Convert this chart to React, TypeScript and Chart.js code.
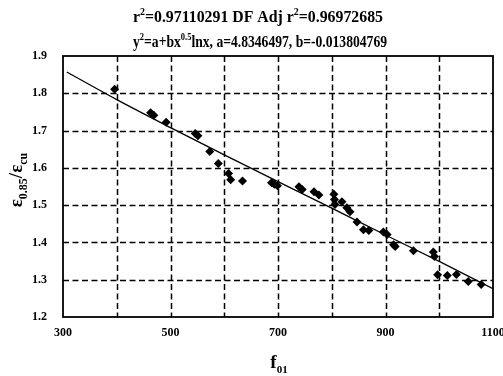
import React, { useEffect, useRef } from 'react';
import { Chart, registerables } from 'chart.js';
Chart.register(...registerables);

// Measured points (f01, eps0.85/epscu)
const pointX = [396, 463, 469, 492, 546, 551, 573, 589, 608, 612, 634, 688, 693, 699, 739, 745, 767, 776, 804, 805, 806, 819, 828, 834, 847, 859, 869, 896, 903, 915, 918, 952, 989, 991, 997, 1015, 1032, 1054, 1078];
const pointY = [1.811, 1.748, 1.741, 1.722, 1.692, 1.686, 1.644, 1.612, 1.585, 1.568, 1.565, 1.56, 1.556, 1.552, 1.549, 1.542, 1.536, 1.527, 1.529, 1.515, 1.502, 1.509, 1.493, 1.482, 1.455, 1.434, 1.432, 1.428, 1.421, 1.394, 1.389, 1.378, 1.374, 1.362, 1.313, 1.311, 1.314, 1.295, 1.287];

// Fitted curve read at each 100
const fitX = [307, 400, 500, 600, 700, 800, 900, 1000, 1100];
const fitY = [1.857, 1.783, 1.708, 1.635, 1.563, 1.492, 1.420, 1.349, 1.276];

const xLabeled = [300, 500, 700, 900, 1100];
const yTicks = ['1.2', '1.3', '1.4', '1.5', '1.6', '1.7', '1.8', '1.9'];

type Seg = { t: string; s: number; dy?: number };
const titleLine1: Seg[] = [
  { t: 'r', s: 16 }, { t: '2', s: 10, dy: -7 }, { t: '=0.97110291 DF Adj r', s: 16 },
  { t: '2', s: 10, dy: -7 }, { t: '=0.96972685', s: 16 },
];
const titleLine2: Seg[] = [
  { t: 'y', s: 16 }, { t: '2', s: 10, dy: -7 }, { t: '=a+bx', s: 16 },
  { t: '0.5', s: 10, dy: -7 }, { t: 'lnx, a=4.8346497, b=-0.013804769', s: 16 },
];
const xTitle: Seg[] = [{ t: 'f', s: 19 }, { t: '01', s: 11, dy: 5 }];
const yTitle: Seg[] = [
  { t: 'ε', s: 19 }, { t: '0.85', s: 12, dy: 5 }, { t: '/ε', s: 19 }, { t: 'cu', s: 12, dy: 5 },
];

const FONT = '"Liberation Serif", "DejaVu Serif", serif';

function drawRich(ctx: CanvasRenderingContext2D, segs: Seg[], cx: number, base: number, target?: number) {
  let total = 0;
  for (const g of segs) {
    ctx.font = `bold ${g.s}px ${FONT}`;
    total += ctx.measureText(g.t).width;
  }
  const k = target ? target / total : 1;
  ctx.save();
  ctx.translate(cx - (total * k) / 2, base);
  ctx.scale(k, 1);
  ctx.textAlign = 'left';
  ctx.textBaseline = 'alphabetic';
  let x = 0;
  for (const g of segs) {
    ctx.font = `bold ${g.s}px ${FONT}`;
    ctx.fillText(g.t, x, g.dy || 0);
    x += ctx.measureText(g.t).width;
  }
  ctx.restore();
}

const decor = {
  id: 'decor',
  beforeDatasetsDraw(chart: any) {
    const ctx = chart.ctx as CanvasRenderingContext2D;
    const a = chart.chartArea;
    const xs = chart.scales.x;
    const ys = chart.scales.y;
    ctx.save();
    ctx.strokeStyle = '#000';
    ctx.lineWidth = 1.5;
    ctx.setLineDash([6, 3.5]);
    for (const t of xs.ticks) {
      const px = Math.round(xs.getPixelForValue(t.value)) + 0.5;
      if (px <= a.left + 2 || px >= a.right - 2) continue;
      ctx.beginPath();
      ctx.moveTo(px, a.top);
      ctx.lineTo(px, a.bottom);
      ctx.stroke();
    }
    for (const t of ys.ticks) {
      const py = Math.round(ys.getPixelForValue(t.value)) + 0.5;
      if (py <= a.top + 2 || py >= a.bottom - 2) continue;
      ctx.beginPath();
      ctx.moveTo(a.left, py);
      ctx.lineTo(a.right, py);
      ctx.stroke();
    }
    ctx.restore();
  },
  afterDraw(chart: any) {
    const ctx = chart.ctx as CanvasRenderingContext2D;
    const a = chart.chartArea;
    ctx.save();
    ctx.strokeStyle = '#000';
    ctx.lineWidth = 1.8;
    ctx.setLineDash([]);
    ctx.strokeRect(a.left, a.top, a.right - a.left, a.bottom - a.top);
    ctx.fillStyle = '#000';
    drawRich(ctx, titleLine1, 258, 22, 250);
    drawRich(ctx, titleLine2, 260, 47, 254);
    drawRich(ctx, xTitle, 279, 368);
    ctx.translate(22, 180);
    ctx.rotate(-Math.PI / 2);
    drawRich(ctx, yTitle, 0, 0);
    ctx.restore();
  },
};

export default function App() {
  const ref = useRef<HTMLCanvasElement>(null);
  useEffect(() => {
    document.body.style.margin = '0';
    const chart = new Chart(ref.current!, {
      type: 'scatter',
      data: {
        datasets: [
          {
            data: pointX.map((x, i) => ({ x, y: pointY[i] })),
            pointStyle: 'rectRot',
            pointRadius: 4.5,
            backgroundColor: '#000',
            borderColor: '#000',
            borderWidth: 0,
          },
          {
            type: 'line',
            data: fitX.map((x, i) => ({ x, y: fitY[i] })),
            borderColor: '#000',
            borderWidth: 1.3,
            pointRadius: 0,
            cubicInterpolationMode: 'monotone',
            fill: false,
          } as any,
        ],
      },
      options: {
        responsive: false,
        animation: false,
        layout: { padding: { left: 0, right: 10, top: 56, bottom: 0 } },
        plugins: { legend: { display: false }, tooltip: { enabled: false }, title: { display: false } },
        scales: {
          x: {
            type: 'linear',
            min: 300,
            max: 1100,
            ticks: {
              stepSize: 100,
              autoSkip: false,
              maxRotation: 0,
              padding: 9,
              color: '#000',
              font: { family: FONT, weight: 'bold', size: 12 },
              callback: (v: any) => (xLabeled.includes(Number(v)) ? String(v) : ''),
            },
            grid: { display: false, drawTicks: false },
            border: { display: false },
            afterFit: (s: any) => { s.height = 59; s.paddingLeft = 0; s.paddingRight = 0; },
          },
          y: {
            type: 'linear',
            min: 1.2,
            max: 1.9,
            ticks: {
              stepSize: 0.1,
              padding: 16,
              color: '#000',
              font: { family: FONT, weight: 'bold', size: 12 },
              callback: (v: any) => {
                const s = Number(v).toFixed(1);
                return yTicks.includes(s) ? s : '';
              },
            },
            grid: { display: false, drawTicks: false },
            border: { display: false },
            afterFit: (s: any) => { s.width = 63; s.paddingTop = 0; s.paddingBottom = 0; },
          },
        },
      } as any,
      plugins: [decor],
    });
    return () => chart.destroy();
  }, []);
  return (
    <div style={{ width: 503, height: 376 }}>
      <canvas ref={ref} width={503} height={376} />
    </div>
  );
}
